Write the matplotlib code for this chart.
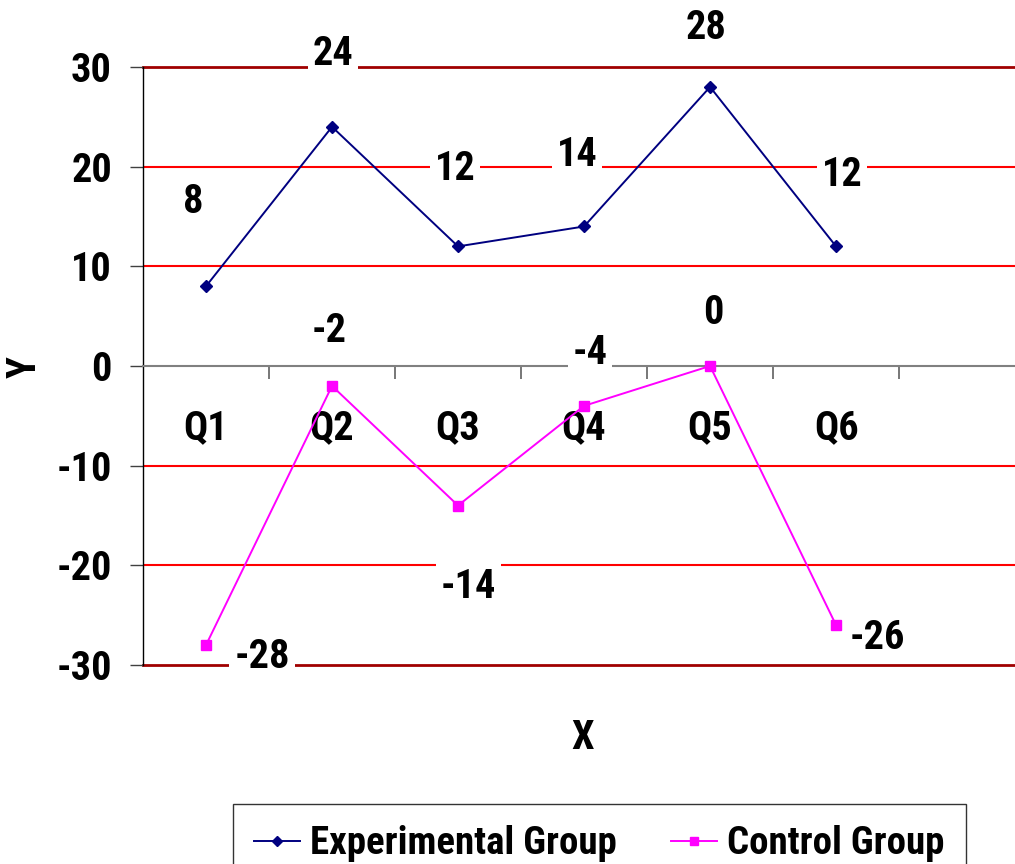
import matplotlib
matplotlib.use('Agg')
import matplotlib.pyplot as plt
from matplotlib import font_manager
from matplotlib.font_manager import FontProperties

# ---- data ----
categories = ['Q1', 'Q2', 'Q3', 'Q4', 'Q5', 'Q6']
experimental = [8, 24, 12, 14, 28, 12]
control = [-28, -2, -14, -4, 0, -26]
series_names = ['Experimental Group', 'Control Group']
y_ticks = [-30, -20, -10, 0, 10, 20, 30]

# ---- style (label offsets in pixels) ----
exp_offsets = [(-13, 84), (1, 73), (-3, 77), (-7, 71), (-4, 59), (6, 71)]
ctl_offsets = [(56, -12), (-3, 55), (10, -81), (6, 53), (3, 53), (41, -13)]


def _wt(w):
    if isinstance(w, (int, float)):
        return int(w)
    return font_manager.weight_dict.get(str(w).lower(), 400)


def find_condensed_bold():
    prefs = ['Liberation Sans Narrow', 'Arial Narrow', 'Roboto Condensed',
             'Noto Sans', 'Open Sans', 'DejaVu Sans', 'Lato', 'Inter']
    best = None
    for f in font_manager.fontManager.ttflist:
        n = f.name
        low = n.lower()
        if any(s in low for s in ('mono', 'serif', 'cjk', 'math', 'display')) and 'sans serif' not in low:
            continue
        st = str(f.stretch).lower()
        narrow = ('narrow' in low or 'condensed' in low or 'condensed' in st
                  or 'condensed' in f.fname.lower() or 'narrow' in f.fname.lower())
        if not narrow:
            continue
        if 'extra' in st or 'ultra' in st or 'semi' in st or 'semicondensed' in f.fname.lower() \
                or 'extracondensed' in f.fname.lower():
            continue
        w = _wt(f.weight)
        if not (600 <= w <= 750):
            continue
        if 'italic' in f.fname.lower() or str(f.style) != 'normal':
            continue
        rank = len(prefs)
        for i, p in enumerate(prefs):
            if low.startswith(p.lower()):
                rank = i
                break
        if best is None or rank < best[0]:
            best = (rank, f.fname)
    return best[1] if best else None


cond = find_condensed_bold()
if cond:
    def FP(size):
        return FontProperties(fname=cond, size=size)
    FS, FS_LEG = 29, 28
else:
    def FP(size):
        return FontProperties(family=['Liberation Sans', 'DejaVu Sans'], weight='bold', size=size)
    FS, FS_LEG = 26, 23

W, H = 1015, 864
fig = plt.figure(figsize=(W / 100, H / 100), dpi=100)
ax = fig.add_axes([143 / W, 1 - 665 / H, (1015 - 143) / W, (665 - 67) / H])

x = list(range(len(categories)))
l1, = ax.plot(x, experimental, color='#000080', lw=1.4, marker='D', ms=6,
              label=series_names[0], zorder=4)
l2, = ax.plot(x, control, color='#FF00FF', lw=1.4, marker='s', ms=7,
              label=series_names[1], zorder=4)

ax.set_xlim(-0.5, 6.42)
ax.set_ylim(-30, 30)
ax.set_yticks(y_ticks)
ax.set_yticklabels([str(v) for v in y_ticks])
ax.set_xticks(x)
ax.set_xticklabels(categories)
ax.set_xticks([i + 0.5 for i in x], minor=True)

ax.spines['top'].set_visible(False)
ax.spines['right'].set_visible(False)
ax.spines['bottom'].set_position(('data', 0))
ax.spines['bottom'].set_color('#808080')
ax.spines['bottom'].set_linewidth(1.5)
ax.spines['left'].set_color('black')
ax.spines['left'].set_linewidth(1.0)

ax.tick_params(axis='x', which='major', length=0, pad=31)
ax.tick_params(axis='x', which='minor', length=9.4, width=1.2, color='#606060', direction='out')
ax.tick_params(axis='y', which='major', length=9.4, width=1.0, color='#404040',
               direction='out', pad=13)
for t in ax.get_xticklabels() + ax.get_yticklabels():
    t.set_fontproperties(FP(FS))

ax.set_axisbelow(True)
ax.yaxis.grid(True, color='red', lw=1.5)
for val, gl in zip(y_ticks, ax.yaxis.get_gridlines()):
    if val == 0:
        gl.set_visible(False)
    elif abs(val) == max(abs(v) for v in y_ticks):
        gl.set_color('#A00000')
        gl.set_linewidth(2)
        gl.set_clip_on(False)

bb = dict(boxstyle='square,pad=0.12', fc='white', ec='none')
for xi, v, off in zip(x, experimental, exp_offsets):
    ax.annotate(str(v), (xi, v), xytext=off, textcoords='offset pixels',
                ha='center', va='center', fontproperties=FP(FS),
                bbox=bb, zorder=5)
for xi, v, off in zip(x, control, ctl_offsets):
    ax.annotate(str(v), (xi, v), xytext=off, textcoords='offset pixels',
                ha='center', va='center', fontproperties=FP(FS),
                bbox=bb, zorder=5)

fig.text(583 / W, 1 - 738 / H, 'X', ha='center', va='center', fontproperties=FP(FS))
fig.text(25 / W, 1 - 367 / H, 'Y', ha='center', va='center', rotation=90,
         fontproperties=FP(FS))

leg = fig.legend(handles=[l1, l2], loc='upper left', bbox_to_anchor=(233 / W, 1 - 804 / H),
                 ncol=2, frameon=True, fancybox=False, borderaxespad=0,
                 handlelength=1.18, handletextpad=0.26, columnspacing=1.39,
                 prop=FP(FS_LEG), borderpad=0.55, markerscale=0.8)
leg.get_frame().set_edgecolor('black')
leg.get_frame().set_linewidth(1.0)

fig.savefig('out.png', dpi=100)
